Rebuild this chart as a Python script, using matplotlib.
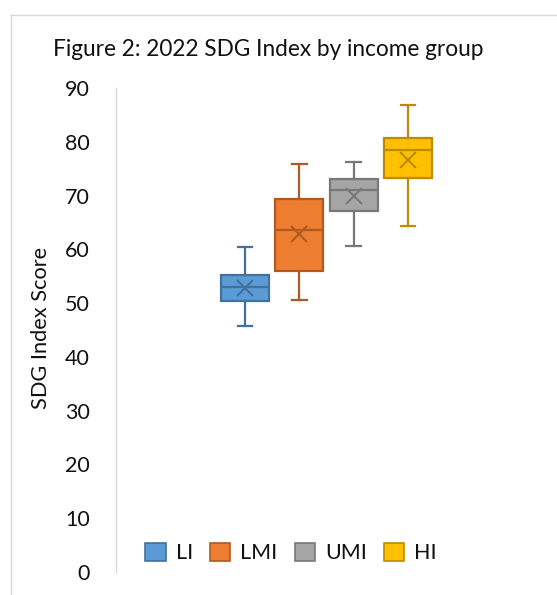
import matplotlib
matplotlib.use("Agg")
import matplotlib.pyplot as plt
from matplotlib.lines import Line2D
from matplotlib.patches import Patch

# Income groups and their SDG Index score distributions (2022)
groups = ["LI", "LMI", "UMI", "HI"]
whisker_low = [45.7, 50.6, 60.6, 64.3]
q1 = [50.3, 56.0, 67.1, 73.3]
median = [53.0, 63.6, 71.0, 78.5]
q3 = [55.2, 69.4, 73.1, 80.7]
whisker_high = [60.4, 75.9, 76.3, 86.8]
mean = [52.8, 62.8, 69.9, 76.6]

fill_colors = ["#5B9BD5", "#ED7D31", "#A5A5A5", "#FFC000"]
edge_colors = ["#41719C", "#AE5A21", "#787878", "#BC8C00"]

y_ticks = [0, 10, 20, 30, 40, 50, 60, 70, 80, 90]

plt.rcParams["font.family"] = ["Lato", "DejaVu Sans"]

W, H = 557, 595
fig = plt.figure(figsize=(W / 100, H / 100), dpi=100)

# plot area in pixel terms
left_px, right_px = 116, 537
top_px, bottom_px = 88, 572
ax = fig.add_axes([left_px / W, (H - bottom_px) / H,
                   (right_px - left_px) / W, (bottom_px - top_px) / H])

for i, g in enumerate(groups):
    stats = [{
        "label": g,
        "whislo": whisker_low[i],
        "q1": q1[i],
        "med": median[i],
        "q3": q3[i],
        "whishi": whisker_high[i],
        "mean": mean[i],
        "fliers": [],
    }]
    ec = edge_colors[i]
    ax.bxp(stats, positions=[i + 1], widths=0.88, patch_artist=True,
           showmeans=True, showfliers=False,
           boxprops=dict(facecolor=fill_colors[i], edgecolor=ec, linewidth=1.6),
           medianprops=dict(color=ec, linewidth=1.6),
           whiskerprops=dict(color=ec, linewidth=1.6),
           capprops=dict(color=ec, linewidth=1.6),
           capwidths=0.27,
           meanprops=dict(marker="x", markeredgecolor=ec, markersize=12,
                          markeredgewidth=1.5))

ax.set_xlim(-1.371, 6.373)
ax.set_ylim(0, 90)
ax.set_yticks(y_ticks)
ax.set_xticks([])
ax.tick_params(axis="y", length=0, pad=19, labelsize=15.5, labelcolor="#111111")
for s in ["top", "right", "bottom"]:
    ax.spines[s].set_visible(False)
ax.spines["left"].set_color("#d9d9d9")
ax.spines["left"].set_linewidth(1.0)
ax.patch.set_alpha(0)

fig.text(41 / W, 1 - 328 / H, "SDG Index Score", rotation=90, ha="center",
         va="center", fontsize=15.7, color="#111111")
fig.text(268 / W, 1 - 49 / H, "Figure 2: 2022 SDG Index by income group",
         ha="center", va="center", fontsize=16.3, color="#111111")

handles = [Patch(facecolor=fc, edgecolor=ec, linewidth=1.2)
           for fc, ec in zip(fill_colors, edge_colors)]
fig.legend(handles, groups, loc="center", bbox_to_anchor=(291 / W, 1 - 553 / H),
           ncol=4, frameon=False, fontsize=15.5, handlelength=0.95, handleheight=0.95,
           handletextpad=0.45, columnspacing=0.8, labelcolor="#111111")

# chart frame (top and left edges)
fig.add_artist(Line2D([11 / W, 1], [1 - 15 / H, 1 - 15 / H],
                      transform=fig.transFigure, color="#d9d9d9", linewidth=1.0))
fig.add_artist(Line2D([11 / W, 11 / W], [0, 1 - 15 / H],
                      transform=fig.transFigure, color="#d9d9d9", linewidth=1.0))

fig.savefig("out.png", dpi=100)
